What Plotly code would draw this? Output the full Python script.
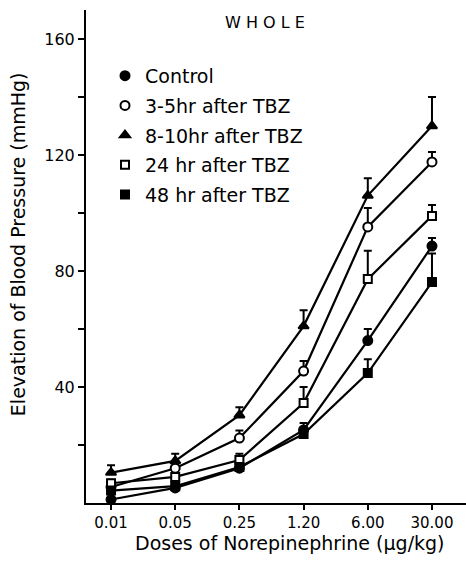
import plotly.graph_objects as go

doses = ["0.01", "0.05", "0.25", "1.20", "6.00", "30.00"]
series_names = ["Control", "3-5hr after TBZ", "8-10hr after TBZ", "24 hr after TBZ", "48 hr after TBZ"]
control = [1.2, 5.2, 12.0, 25.2, 56.0, 88.6]
hr3_5 = [5.5, 12.0, 22.4, 45.5, 95.2, 117.6]
hr8_10 = [10.5, 14.5, 30.3, 61.0, 106.0, 130.0]
hr24 = [6.8, 9.0, 14.8, 34.5, 77.2, 99.0]
hr48 = [4.3, 5.8, 12.4, 23.8, 44.8, 76.2]
err_control = [0, 0, 0, 2.4, 4.0, 2.8]
err_3_5 = [0, 0, 2.6, 3.5, 6.5, 3.4]
err_8_10 = [2.5, 2.5, 2.7, 5.5, 6.0, 10.0]
err_24 = [1.2, 0, 2.2, 5.5, 9.8, 3.8]
err_48 = [0, 0, 0, 0, 4.8, 9.8]

y_ticks = [40, 80, 120, 160]
y_minor = [20, 60, 100, 140]

values = [control, hr3_5, hr8_10, hr24, hr48]
errors = [err_control, err_3_5, err_8_10, err_24, err_48]
symbols = ["circle", "circle", "triangle-up", "square", "square"]
fills = ["black", "white", "black", "white", "black"]
sizes = [9, 9, 9, 8, 8]

xpos = list(range(len(doses)))
FONT = "DejaVu Sans"

fig = go.Figure()
for name, v in zip(series_names, values):
    fig.add_trace(go.Scatter(x=xpos, y=v, mode="lines", line=dict(color="black", width=2.2),
                             showlegend=False, hoverinfo="skip"))
for i, (name, v, e, s, f, sz) in enumerate(zip(series_names, values, errors, symbols, fills, sizes)):
    fig.add_trace(go.Scatter(
        x=xpos, y=v, mode="markers", name=name, legendgroup=str(i),
        marker=dict(symbol=s, size=sz, color=f, line=dict(color="black", width=2)),
        error_y=dict(type="data", symmetric=False, array=e, arrayminus=[0]*len(e),
                     color="black", thickness=2, width=4),
    ))

fig.update_layout(
    width=466, height=561,
    margin=dict(l=86, r=0, t=10, b=58),
    paper_bgcolor="white", plot_bgcolor="white",
    font=dict(family=FONT, color="black", size=16),
    legend=dict(x=0.05, y=0.905, xanchor="left", yanchor="top", font=dict(size=19),
                tracegroupgap=2, bgcolor="rgba(0,0,0,0)", itemwidth=30),
    xaxis=dict(range=[-0.39, 5.53], tickvals=xpos, ticktext=doses, showgrid=False,
               zeroline=False, showline=True, linecolor="black", linewidth=2,
               ticks="outside", ticklen=5, tickwidth=2, tickcolor="black",
               tickfont=dict(size=15), automargin=False),
    yaxis=dict(range=[0, 170], tickvals=y_ticks, showgrid=False, zeroline=False,
               showline=True, linecolor="black", linewidth=2,
               ticks="outside", ticklen=6, tickwidth=2, tickcolor="black",
               tickfont=dict(size=16), automargin=False,
               minor=dict(tickvals=y_minor, ticks="outside", ticklen=6,
                          tickwidth=2, tickcolor="black")),
    annotations=[
        dict(text="W H O L E", x=0.471, y=0.974, xref="paper", yref="paper",
             showarrow=False, font=dict(size=16), xanchor="center", yanchor="middle"),
        dict(text="Elevation of Blood Pressure (mmHg)", x=-0.179, y=0.525, xref="paper",
             yref="paper", showarrow=False, textangle=-90, font=dict(size=19),
             xanchor="center", yanchor="middle"),
        dict(text="Doses of Norepinephrine (μg/kg)", x=0.537, y=-0.081, xref="paper",
             yref="paper", showarrow=False, font=dict(size=19),
             xanchor="center", yanchor="middle"),
    ],
)

fig.write_html("out.html", config={"displayModeBar": False},
               post_script="document.body.style.margin='0px';")
